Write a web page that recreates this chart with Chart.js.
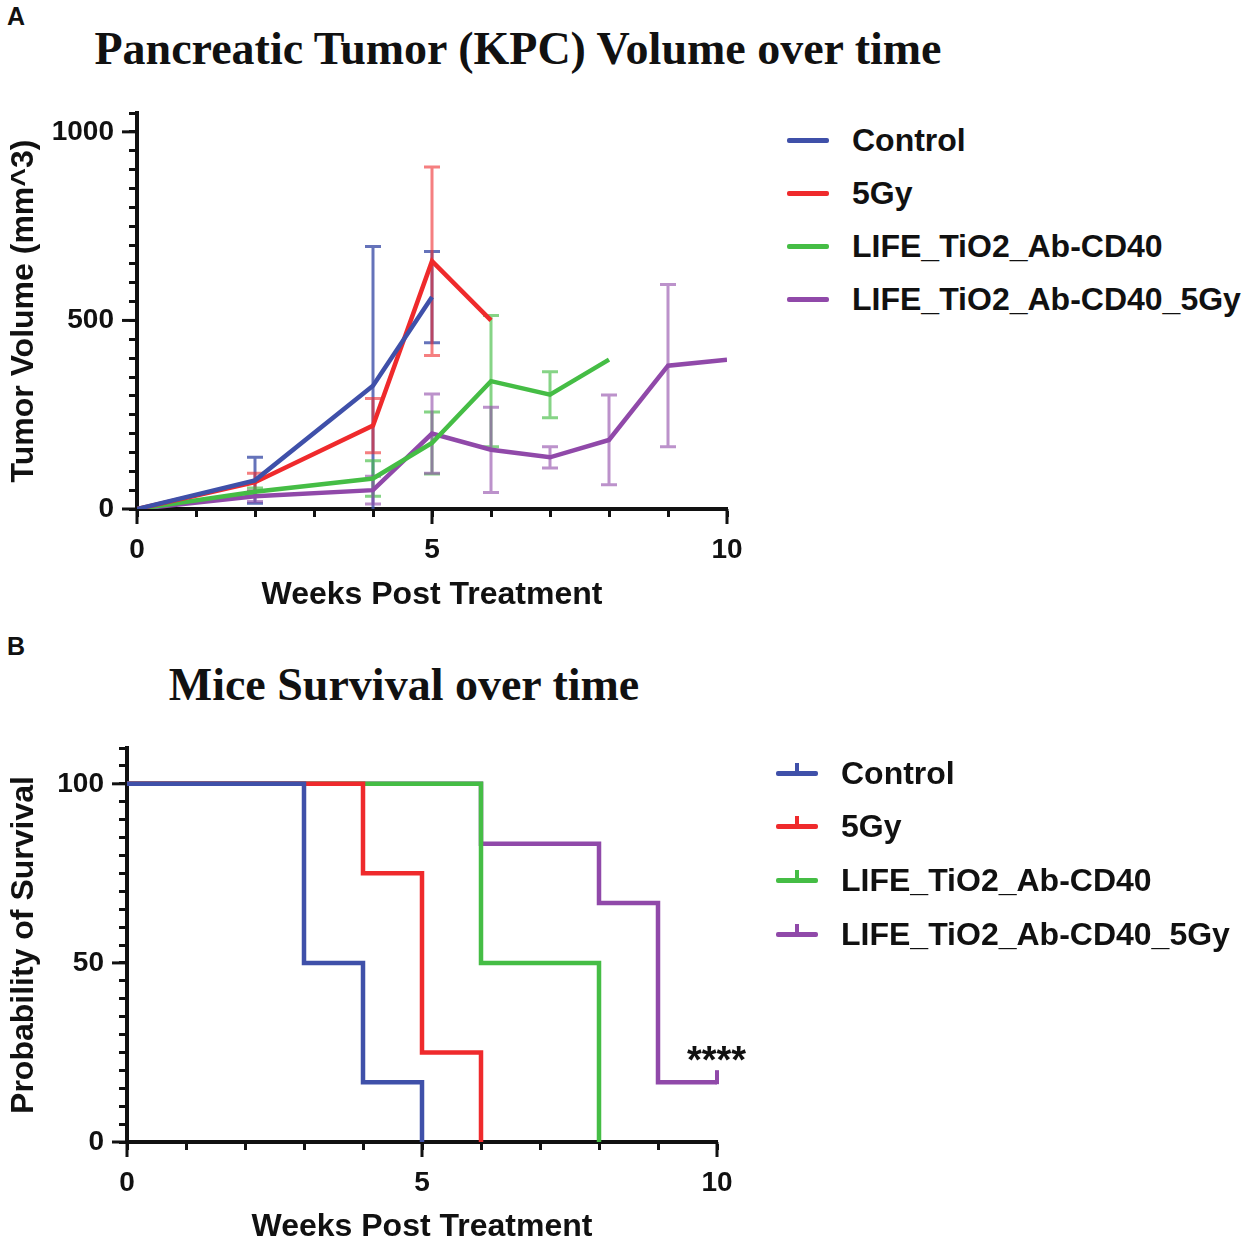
<!DOCTYPE html>
<html>
<head>
<meta charset="utf-8">
<script src="https://cdn.jsdelivr.net/npm/chart.js@4.4.1/dist/chart.umd.min.js"></script>
<style>
  body { margin: 0; background: #fff; width: 1244px; height: 1246px; position: relative; overflow: hidden;
         font-family: "Liberation Sans", Arial, sans-serif; color: #111; }
  canvas { position: absolute; left: 0; }
  .letter { position: absolute; font-weight: bold; font-size: 25px; line-height: 25px; }
  .title { position: absolute; font-family: "Liberation Serif", "Times New Roman", serif; font-weight: bold;
           font-size: 46px; line-height: 46px; white-space: nowrap; transform: translateX(-50%); }
  .legend { position: absolute; }
  .legend .row { position: absolute; left: 0; height: 40px; display: flex; align-items: center; white-space: nowrap; }
  .legend .swatch { position: relative; width: 42px; height: 5px; border-radius: 2px; margin-right: 23px; }
  .legend .swatch .tick { position: absolute; left: 19px; bottom: 3px; width: 4px; height: 10px; }
  .legend .label { font-weight: bold; font-size: 32px; }
  .stars { position: absolute; font-weight: bold; font-size: 38px; line-height: 38px; }
</style>
</head>
<body>

<div class="letter" style="left:7px; top:4px;">A</div>
<div class="title" style="left:518px; top:26px;">Pancreatic Tumor (KPC) Volume over time</div>
<canvas id="tumorChart" width="780" height="630" style="top:0;"></canvas>
<div class="legend" id="tumorLegend" style="left:787px; top:120px;"></div>

<div class="letter" style="left:7px; top:634px;">B</div>
<div class="title" style="left:404px; top:662px;">Mice Survival over time</div>
<canvas id="survivalChart" width="780" height="616" style="top:630px;"></canvas>
<div class="legend" id="survivalLegend" style="left:776px; top:753px;"></div>
<div class="stars" style="left:687px; top:1041px;">****</div>

<script>
// ---- series names and colours ----
const groupNames = ['Control', '5Gy', 'LIFE_TiO2_Ab-CD40', 'LIFE_TiO2_Ab-CD40_5Gy'];
const groupColors = ['#3f50a9', '#ef2a2c', '#45bd45', '#9049a9'];
const errorColors = ['rgba(63,80,169,0.8)', 'rgba(239,42,44,0.6)', 'rgba(69,189,69,0.65)', 'rgba(144,73,169,0.6)'];

// ---- panel A: tumour volume (mean, SEM) ----
const controlWeeks = [0, 2, 4, 5];
const controlVolume = [0, 76, 327, 562];
const controlSem = [0, 61, 369, 121];

const gy5Weeks = [0, 2, 4, 5, 6];
const gy5Volume = [0, 71, 221, 657, 500];
const gy5Sem = [0, 24, 72, 250, 0];

const lifeWeeks = [0, 2, 4, 5, 6, 7, 8];
const lifeVolume = [0, 46, 81, 175, 339, 303, 396];
const lifeSem = [0, 10, 47, 82, 174, 61, 0];

const lifeGyWeeks = [0, 2, 4, 5, 6, 7, 8, 9, 10];
const lifeGyVolume = [0, 34, 50, 200, 157, 137, 183, 380, 396];
const lifeGySem = [0, 14, 37, 105, 113, 28, 119, 215, 0];

// ---- panel B: Kaplan-Meier survival (%) ----
const controlSurvWeeks = [0, 3, 4, 5];
const controlSurvival = [100, 50, 16.7, 0];

const gy5SurvWeeks = [0, 4, 5, 6];
const gy5Survival = [100, 75, 25, 0];

const lifeSurvWeeks = [0, 6, 8];
const lifeSurvival = [100, 50, 0];

const lifeGySurvWeeks = [0, 6, 8, 9, 10];
const lifeGySurvival = [100, 83.3, 66.7, 16.7, 16.7];
const lifeGyCensored = [10];

// ---- axis labels ----
const weekTickLabels = [0, 5, 10];
const volumeTickLabels = [0, 500, 1000];
const survivalTickLabels = [0, 50, 100];

function toPoints(xs, ys) {
    return xs.map((x, i) => ({ x: x, y: ys[i] }));
}

Chart.defaults.font.family = '"Liberation Sans", Arial, sans-serif';
Chart.defaults.font.weight = 'bold';
Chart.defaults.color = '#111';

// longer tick marks at the labelled values
const majorTicks = {
    id: 'majorTicks',
    afterDraw(chart, args, opts) {
        const ctx = chart.ctx;
        const xs = chart.scales.x, ys = chart.scales.y;
        ctx.save();
        ctx.strokeStyle = '#111';
        ctx.lineWidth = 3;
        opts.x.forEach(v => {
            const px = xs.getPixelForValue(v);
            ctx.beginPath(); ctx.moveTo(px, xs.top); ctx.lineTo(px, xs.top + 15); ctx.stroke();
        });
        opts.y.forEach(v => {
            const py = ys.getPixelForValue(v);
            ctx.beginPath(); ctx.moveTo(ys.right, py); ctx.lineTo(ys.right - 15, py); ctx.stroke();
        });
        ctx.restore();
    }
};

// vertical error bars with caps, from each dataset's "errors" array
const errorBars = {
    id: 'errorBars',
    beforeDatasetsDraw(chart) {
        const ctx = chart.ctx;
        const area = chart.chartArea;
        const xs = chart.scales.x, ys = chart.scales.y;
        ctx.save();
        ctx.beginPath();
        ctx.rect(area.left, area.top - 2, area.right - area.left + 10, area.bottom - area.top + 2);
        ctx.clip();
        chart.data.datasets.forEach(ds => {
            if (!ds.errors) return;
            ctx.strokeStyle = ds.errorColor;
            ctx.lineWidth = 3;
            ds.data.forEach((p, i) => {
                const e = ds.errors[i];
                if (!e) return;
                const px = xs.getPixelForValue(p.x);
                const top = ys.getPixelForValue(p.y + e);
                const bot = ys.getPixelForValue(p.y - e);
                ctx.beginPath();
                ctx.moveTo(px, top); ctx.lineTo(px, bot);
                ctx.moveTo(px - 8, top); ctx.lineTo(px + 8, top);
                if (p.y - e > 0) { ctx.moveTo(px - 8, bot); ctx.lineTo(px + 8, bot); }
                ctx.stroke();
            });
        });
        ctx.restore();
    }
};

// censor ticks on survival curves
const censorTicks = {
    id: 'censorTicks',
    afterDatasetsDraw(chart) {
        const ctx = chart.ctx;
        const xs = chart.scales.x, ys = chart.scales.y;
        ctx.save();
        chart.data.datasets.forEach(ds => {
            if (!ds.censored) return;
            ctx.strokeStyle = ds.borderColor;
            ctx.lineWidth = 4;
            ds.censored.forEach(cx => {
                let val = ds.data[0].y;
                ds.data.forEach(p => { if (p.x <= cx) val = p.y; });
                const px = xs.getPixelForValue(cx), py = ys.getPixelForValue(val);
                ctx.beginPath(); ctx.moveTo(px, py + 2); ctx.lineTo(px, py - 12); ctx.stroke();
            });
        });
        ctx.restore();
    }
};

function axisOptions(opts) {
    return {
        type: 'linear',
        min: opts.min,
        max: opts.max,
        afterFit: opts.fit,
        border: { display: true, color: '#111', width: 4 },
        grid: { display: true, drawOnChartArea: false, drawTicks: true, tickLength: 8, tickWidth: 3, tickColor: '#111' },
        ticks: {
            stepSize: opts.step,
            autoSkip: false,
            maxRotation: 0,
            padding: opts.padding,
            font: { size: 28, weight: 'bold' },
            color: '#111',
            callback: v => opts.labels.includes(v) ? String(v) : ''
        },
        title: {
            display: true,
            text: opts.title,
            font: { size: 32, weight: 'bold' },
            color: '#111',
            padding: opts.titlePadding
        }
    };
}

// ---- panel A ----
const tumorSeries = [
    [controlWeeks, controlVolume, controlSem],
    [gy5Weeks, gy5Volume, gy5Sem],
    [lifeWeeks, lifeVolume, lifeSem],
    [lifeGyWeeks, lifeGyVolume, lifeGySem]
];

new Chart(document.getElementById('tumorChart'), {
    type: 'line',
    data: {
        datasets: tumorSeries.map((s, i) => ({
            label: groupNames[i],
            data: toPoints(s[0], s[1]),
            errors: s[2],
            errorColor: errorColors[i],
            borderColor: groupColors[i],
            borderWidth: 4.5,
            pointRadius: 0,
            tension: 0,
            fill: false
        }))
    },
    options: {
        responsive: false,
        animation: false,
        devicePixelRatio: 1,
        layout: { padding: { top: 113, right: 53, left: 0, bottom: 0 } },
        plugins: {
            legend: { display: false },
            tooltip: { enabled: false },
            majorTicks: { x: weekTickLabels, y: volumeTickLabels }
        },
        scales: {
            x: axisOptions({ min: 0, max: 10, step: 1, labels: weekTickLabels, padding: 16,
                title: 'Weeks Post Treatment', titlePadding: { top: 4, bottom: 16 },
                fit: s => { s.height = 121; } }),
            y: axisOptions({ min: 0, max: 1050, step: 50, labels: volumeTickLabels, padding: 15,
                title: 'Tumor Volume (mm^3)', titlePadding: { top: 5, bottom: 0 },
                fit: s => { s.width = 137; } })
        }
    },
    plugins: [errorBars, majorTicks]
});

// ---- panel B ----
const survivalSeries = [
    [controlSurvWeeks, controlSurvival, null],
    [gy5SurvWeeks, gy5Survival, null],
    [lifeSurvWeeks, lifeSurvival, null],
    [lifeGySurvWeeks, lifeGySurvival, lifeGyCensored]
];

new Chart(document.getElementById('survivalChart'), {
    type: 'line',
    data: {
        datasets: survivalSeries.map((s, i) => ({
            label: groupNames[i],
            data: toPoints(s[0], s[1]),
            censored: s[2],
            borderColor: groupColors[i],
            borderWidth: 4.5,
            pointRadius: 0,
            stepped: 'before',
            fill: false
        }))
    },
    options: {
        responsive: false,
        animation: false,
        devicePixelRatio: 1,
        layout: { padding: { top: 118, right: 63, left: 0, bottom: 0 } },
        plugins: {
            legend: { display: false },
            tooltip: { enabled: false },
            majorTicks: { x: weekTickLabels, y: survivalTickLabels }
        },
        scales: {
            x: axisOptions({ min: 0, max: 10, step: 1, labels: weekTickLabels, padding: 16,
                title: 'Weeks Post Treatment', titlePadding: { top: 4, bottom: 0 },
                fit: s => { s.height = 104; } }),
            y: axisOptions({ min: 0, max: 110, step: 5, labels: survivalTickLabels, padding: 15,
                title: 'Probability of Survival', titlePadding: { top: 5, bottom: 0 },
                fit: s => { s.width = 127; } })
        }
    },
    plugins: [censorTicks, majorTicks]
});

// ---- HTML legends ----
function buildLegend(id, step, withTick) {
    const box = document.getElementById(id);
    groupNames.forEach((name, i) => {
        const row = document.createElement('div');
        row.className = 'row';
        row.style.top = (i * step) + 'px';
        const sw = document.createElement('div');
        sw.className = 'swatch';
        sw.style.background = groupColors[i];
        if (withTick) {
            const t = document.createElement('div');
            t.className = 'tick';
            t.style.background = groupColors[i];
            sw.appendChild(t);
        }
        const label = document.createElement('span');
        label.className = 'label';
        label.textContent = name;
        row.appendChild(sw);
        row.appendChild(label);
        box.appendChild(row);
    });
}
buildLegend('tumorLegend', 53.3, false);
buildLegend('survivalLegend', 53.7, true);
</script>
</body>
</html>
